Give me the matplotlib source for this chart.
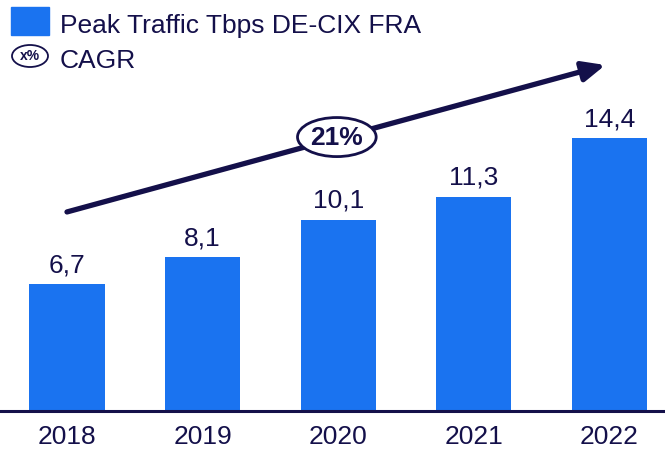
import matplotlib
matplotlib.use("Agg")
import matplotlib.pyplot as plt
from matplotlib.patches import Ellipse, Rectangle

years = ["2018", "2019", "2020", "2021", "2022"]
peak_tbps = [6.7, 8.1, 10.1, 11.3, 14.4]
value_labels = ["6,7", "8,1", "10,1", "11,3", "14,4"]
cagr_label = "21%"
legend_series = "Peak Traffic Tbps DE-CIX FRA"
legend_cagr = "CAGR"

BLUE = "#1a73f0"
NAVY = "#14104a"
plt.rcParams['font.family'] = ['Liberation Sans', 'DejaVu Sans']

W, H = 665, 451
fig = plt.figure(figsize=(W / 100, H / 100), dpi=100)
ax = fig.add_axes([0, 40 / H, 1, 411 / H])
x = list(range(len(years)))
ax.bar(x, peak_tbps, width=0.555, color=BLUE)
ax.set_xlim(-0.494, 4.41)
ax.set_ylim(0, 21.68)
for s in ["top", "right", "left"]:
    ax.spines[s].set_visible(False)
ax.spines["bottom"].set_color(NAVY)
ax.spines["bottom"].set_linewidth(2.2)
ax.set_yticks([])
ax.set_xticks(x)
ax.set_xticklabels(years, fontsize=19, color=NAVY)
ax.tick_params(axis="x", length=0, pad=10)

for xi, v, lab in zip(x, peak_tbps, value_labels):
    ax.annotate(lab, (xi, v), xytext=(0, 8.6), textcoords="offset points",
                ha="center", va="baseline", fontsize=19, color=NAVY)

# CAGR arrow
ax.annotate("", xy=(3.97, 18.25), xytext=(0.0, 10.5),
            arrowprops=dict(arrowstyle="-|>,head_length=1.35,head_width=0.6",
                            color=NAVY, lw=3.8, shrinkA=0, shrinkB=0))
ax.add_patch(Ellipse((1.99, 14.45), 0.58, 2.06, facecolor="white",
                     edgecolor=NAVY, lw=2.0, zorder=5))
ax.text(1.99, 14.4, cagr_label, ha="center", va="center", fontsize=19,
        fontweight="bold", color=NAVY, zorder=6)

# Legend
fig.patches.append(Rectangle((11 / W, 1 - 35 / H), 38 / W, 28 / H,
                             transform=fig.transFigure, color=BLUE))
fig.text(60 / W, 1 - 33 / H, legend_series, ha="left", va="baseline",
         fontsize=19, color=NAVY)
fig.patches.append(Ellipse((30 / W, 1 - 56 / H), 36 / W, 22 / H,
                           transform=fig.transFigure, facecolor="white",
                           edgecolor=NAVY, lw=1.3))
fig.text(30 / W, 1 - 56 / H, "x%", ha="center", va="center",
         fontsize=10, fontweight="bold", color=NAVY)
fig.text(60 / W, 1 - 68 / H, legend_cagr, ha="left", va="baseline",
         fontsize=19, color=NAVY)

fig.savefig("out.png", dpi=100)
